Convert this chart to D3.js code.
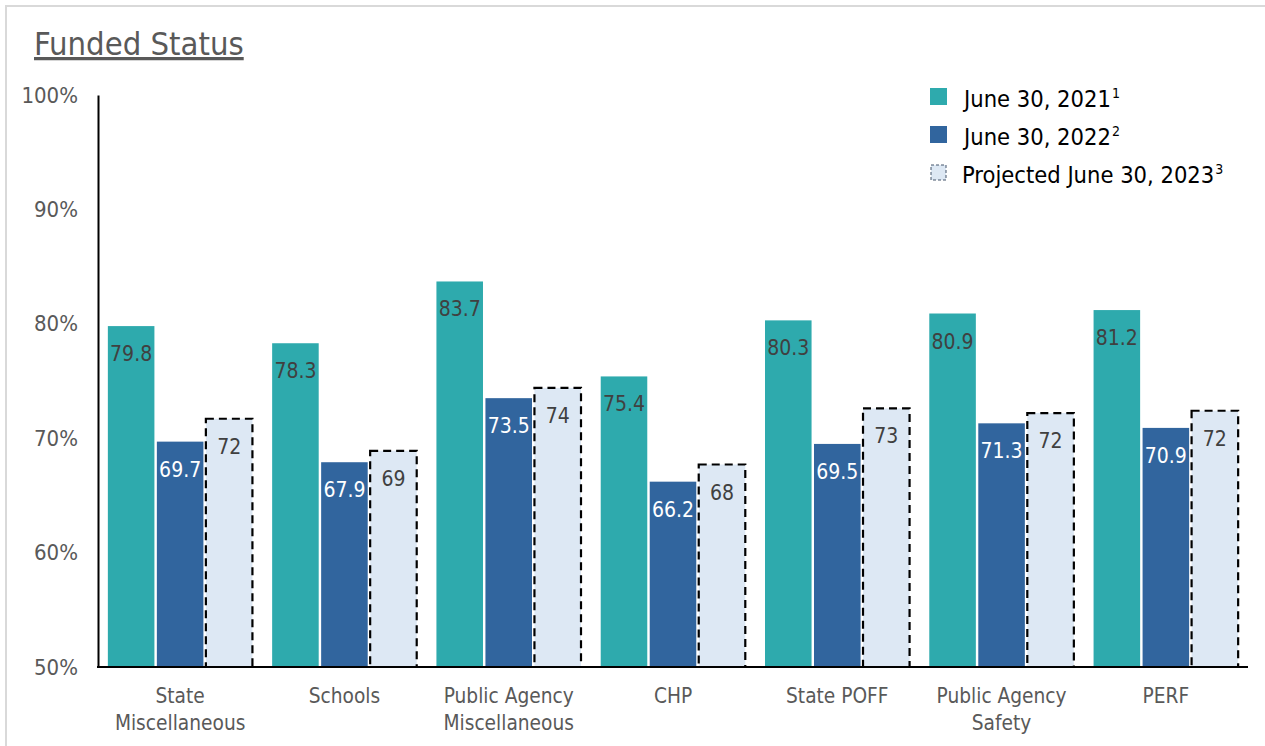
<!DOCTYPE html>
<html>
  <head>
    <meta charset="utf-8">
    <title>Funded Status</title>
    <script src="https://d3js.org/d3.v7.min.js"></script>
    <style>
      body { margin: 0; background: #fff; }
      text { font-family: "DejaVu Sans Condensed", "DejaVu Sans", sans-serif; }
    </style>
  </head>
  <body>
    <script>
      // chart data
      var categories = ["State Miscellaneous", "Schools", "Public Agency Miscellaneous", "CHP", "State POFF", "Public Agency Safety", "PERF"];
      var categoryLines = [["State", "Miscellaneous"], ["Schools"], ["Public Agency", "Miscellaneous"], ["CHP"], ["State POFF"], ["Public Agency", "Safety"], ["PERF"]];
      var series = ["June 30, 2021", "June 30, 2022", "Projected June 30, 2023"];
      var seriesNotes = ["1", "2", "3"];
      var funded2021 = [79.8, 78.3, 83.7, 75.4, 80.3, 80.9, 81.2];
      var funded2022 = [69.7, 67.9, 73.5, 66.2, 69.5, 71.3, 70.9];
      var funded2023 = [71.7, 68.9, 74.4, 67.7, 72.6, 72.2, 72.4];
      var yTicks = [50, 60, 70, 80, 90, 100];

      var width = 1265, height = 746;
      var svg = d3.select("body").append("svg")
        .attr("width", width)
        .attr("height", height);

      // outer frame
      svg.append("rect")
        .attr("x", 6).attr("y", 6)
        .attr("width", width + 20).attr("height", height + 20)
        .attr("fill", "none")
        .attr("stroke", "#d9d9d9")
        .attr("stroke-width", 2);

      svg.append("text")
        .attr("x", 34).attr("y", 55)
        .attr("font-size", 32.5)
        .attr("fill", "#595959")
        .style("text-decoration", "underline")
        .text("Funded Status");

      var y = d3.scaleLinear().domain([50, 100]).range([667, 95]);
      var x0 = d3.scaleBand().domain(categories).range([98, 1248])
        .paddingInner(0.12).paddingOuter(0.06);
      var x1 = d3.scaleBand().domain(series).range([0, x0.bandwidth()])
        .paddingInner(0.05);

      var colors = ["#2eaaad", "#31659e", "#dde8f4"];
      var labelColors = ["#404040", "#ffffff", "#404040"];
      var allSeries = [funded2021, funded2022, funded2023];

      var rows = [];
      categories.forEach(function(c, i) {
        series.forEach(function(s, j) {
          rows.push({cat: c, s: s, j: j, v: allSeries[j][i]});
        });
      });

      var bars = svg.append("g").selectAll("g.bar").data(rows).enter().append("g");
      bars.append("rect")
        .attr("x", function(d) { return x0(d.cat) + x1(d.s); })
        .attr("y", function(d) { return y(d.v); })
        .attr("width", x1.bandwidth())
        .attr("height", function(d) { return y(50) - y(d.v); })
        .attr("fill", function(d) { return colors[d.j]; })
        .attr("stroke", function(d) { return d.j == 2 ? "#000" : "none"; })
        .attr("stroke-width", 2.2)
        .attr("stroke-dasharray", function(d) { return d.j == 2 ? "8,5" : null; });
      bars.append("text")
        .attr("x", function(d) { return x0(d.cat) + x1(d.s) + x1.bandwidth() / 2; })
        .attr("y", function(d) { return y(d.v) + 35; })
        .attr("text-anchor", "middle")
        .attr("font-size", 21)
        .attr("fill", function(d) { return labelColors[d.j]; })
        .text(function(d) { return d.j == 2 ? d3.format(".0f")(d.v) : d3.format(".1f")(d.v); });

      // axes
      var yAxis = svg.append("g")
        .attr("transform", "translate(98,0)")
        .call(d3.axisLeft(y).tickValues(yTicks).tickSize(0).tickPadding(20)
          .tickFormat(function(d) { return d + "%"; }));
      yAxis.select(".domain").attr("stroke", "#000").attr("stroke-width", 2);
      yAxis.selectAll("text").attr("font-size", 22).attr("fill", "#595959")
        .attr("font-family", null);

      svg.append("line")
        .attr("x1", 97).attr("x2", 1248)
        .attr("y1", y(50)).attr("y2", y(50))
        .attr("stroke", "#000").attr("stroke-width", 2);

      var cats = svg.append("g").selectAll("text").data(categories).enter().append("text")
        .attr("text-anchor", "middle")
        .attr("font-size", 20.7)
        .attr("fill", "#595959");
      cats.each(function(c, i) {
        var t = d3.select(this);
        categoryLines[i].forEach(function(line, k) {
          t.append("tspan")
            .attr("x", x0(c) + x0.bandwidth() / 2)
            .attr("y", 703 + k * 27)
            .text(line);
        });
      });

      // legend
      var legend = svg.append("g").attr("transform", "translate(930,88)");
      var items = legend.selectAll("g").data(series).enter().append("g")
        .attr("transform", function(d, i) { return "translate(0," + (i * 38) + ")"; });
      items.append("rect")
        .attr("x", function(d, i) { return i == 2 ? 1 : 0; })
        .attr("y", function(d, i) { return i == 2 ? 1 : 0; })
        .attr("width", function(d, i) { return i == 2 ? 15 : 17; })
        .attr("height", function(d, i) { return i == 2 ? 15 : 17; })
        .attr("fill", function(d, i) { return colors[i]; })
        .attr("stroke", function(d, i) { return i == 2 ? "#44546a" : "none"; })
        .attr("stroke-width", 1)
        .attr("stroke-dasharray", "3,2");
      var lt = items.append("text")
        .attr("x", function(d, i) { return i == 2 ? 32 : 34; })
        .attr("y", 19)
        .attr("font-size", 23.5)
        .attr("fill", "#000");
      lt.append("tspan").text(function(d) { return d; });
      lt.append("tspan")
        .attr("font-size", 14)
        .attr("dy", -9)
        .attr("dx", 1)
        .text(function(d, i) { return seriesNotes[i]; });
    </script>
  </body>
</html>
